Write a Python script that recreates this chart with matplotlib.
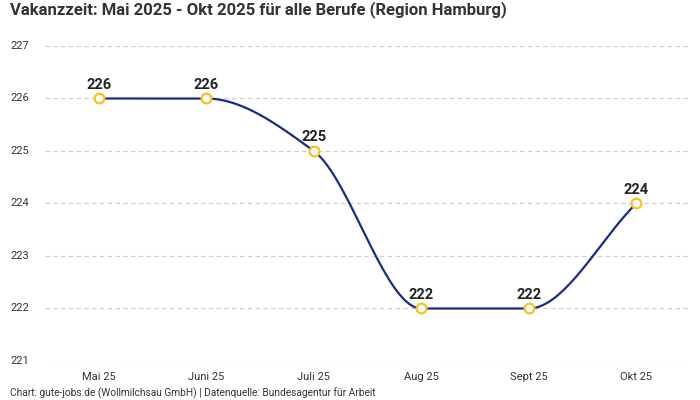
import numpy as np
import matplotlib.pyplot as plt

plt.rcParams['font.family'] = ['Roboto', 'DejaVu Sans']

months = ['Mai 25', 'Juni 25', 'Juli 25', 'Aug 25', 'Sept 25', 'Okt 25']
values = [226, 226, 225, 222, 222, 224]
yticks = [221, 222, 223, 224, 225, 226, 227]

title = 'Vakanzzeit: Mai 2025 - Okt 2025 für alle Berufe (Region Hamburg)'
source = 'Chart: gute-jobs.de (Wollmilchsau GmbH) | Datenquelle: Bundesagentur für Arbeit'


def monotone_curve(x, y, n=40):
    # Fritsch-Carlson monotone cubic, like d3.curveMonotoneX
    x = np.asarray(x, float)
    y = np.asarray(y, float)
    h = np.diff(x)
    d = np.diff(y) / h
    m = np.zeros_like(y)
    m[0], m[-1] = d[0], d[-1]
    for i in range(1, len(y) - 1):
        if d[i - 1] * d[i] <= 0:
            m[i] = 0
        else:
            w1 = 2 * h[i] + h[i - 1]
            w2 = h[i] + 2 * h[i - 1]
            m[i] = (w1 + w2) / (w1 / d[i - 1] + w2 / d[i])
    xs, ys = [], []
    for i in range(len(x) - 1):
        t = np.linspace(0, 1, n)
        h00 = 2 * t**3 - 3 * t**2 + 1
        h10 = t**3 - 2 * t**2 + t
        h01 = -2 * t**3 + 3 * t**2
        h11 = t**3 - t**2
        xs.append(x[i] + t * h[i])
        ys.append(h00 * y[i] + h10 * h[i] * m[i] + h01 * y[i + 1] + h11 * h[i] * m[i + 1])
    return np.concatenate(xs), np.concatenate(ys)


fig = plt.figure(figsize=(7, 4), dpi=100)
ax = fig.add_axes([45 / 700, 1 - 361 / 400, 645 / 700, 315 / 400])

xpos = np.arange(len(months))
cx, cy = monotone_curve(xpos, values)
ax.plot(cx, cy, color='#1c2a8c', lw=1.6, zorder=3)
ax.plot(xpos, values, 'o', ms=7, mfc='white', mec='#f7c21b', mew=1.6, zorder=4, clip_on=False)

for x, v in zip(xpos, values):
    ax.annotate(str(v), (x, v), xytext=(0, 5), textcoords='offset points',
                ha='center', va='bottom', fontsize=10.5, fontweight='bold', color='#222222')

ax.set_xlim(-0.5, len(months) - 0.5)
ax.set_ylim(221, 227)
ax.set_yticks(yticks)
ax.set_xticks(xpos)
ax.set_xticklabels(months, fontsize=8, color='#333333')
ax.tick_params(axis='x', length=0, pad=8)
ax.tick_params(axis='y', length=0, labelleft=False)
ax.grid(axis='y', color='#cccccc', ls=(0, (4, 3)), lw=0.8)
for s in ax.spines.values():
    s.set_visible(False)

for t in yticks:
    ax.text(10 / 700, t, str(t), transform=ax.get_yaxis_transform().__class__(fig.transFigure, ax.transData),
            ha='left', va='center', fontsize=8, color='#333333')

fig.text(10 / 700, 1 - 10 / 400, title, ha='left', va='center', fontsize=12,
         fontweight='bold', color='#333333')
fig.text(10 / 700, 1 - 393 / 400, source, ha='left', va='center', fontsize=7.3, color='#333333')

fig.savefig('out.png', dpi=100)
